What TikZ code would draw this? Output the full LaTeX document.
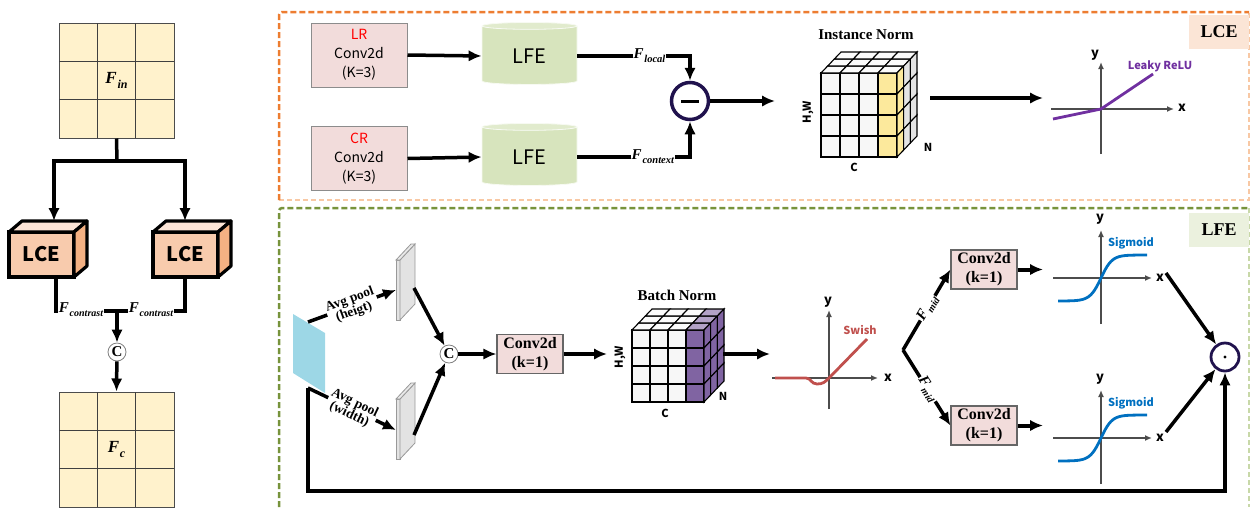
\documentclass[tikz,border=0pt]{standalone}
\usepackage{fontspec}
\setmainfont{Liberation Serif}
\newfontfamily\ksans{Noto Sans CJK KR}
\usetikzlibrary{arrows.meta,shapes.geometric}
\definecolor{gridfill}{HTML}{FFF2CC}
\definecolor{lcefront}{HTML}{F8CBAD}
\definecolor{lcetop}{HTML}{FCE4D6}
\definecolor{lceside}{HTML}{F4B183}
\definecolor{pinkbox}{HTML}{F2DCDB}
\definecolor{cylgreen}{HTML}{D7E4BD}
\definecolor{navy}{HTML}{20124D}
\definecolor{orangeD}{HTML}{ED7D31}
\definecolor{orangeL}{HTML}{F8C8A4}
\definecolor{greenD}{HTML}{77933C}
\definecolor{greenL}{HTML}{C8D8A8}
\definecolor{lcetag}{HTML}{FBE5D6}
\definecolor{lfetag}{HTML}{EBF1DE}
\definecolor{yellowc}{HTML}{FCE99C}
\definecolor{purplec}{HTML}{8064A2}
\definecolor{purplel}{HTML}{B3A2C7}
\definecolor{leaky}{HTML}{7030A0}
\definecolor{swishc}{HTML}{C0504D}
\definecolor{sigc}{HTML}{0070C0}
\definecolor{bluepar}{HTML}{9DD7E6}
\definecolor{slabc}{HTML}{E3E3E3}
\definecolor{cubew}{HTML}{F7F7F7}
\definecolor{cubet}{HTML}{FBFBFB}
\definecolor{cubes}{HTML}{E4E4E4}
\newcommand\myfs[2]{\fontsize{#1pt}{#2pt}\selectfont}
\newcommand\Fv[3]{{\myfs{#1}{#1}\bfseries\itshape F\kern0.8pt\raisebox{-0.25em}{\myfs{#2}{#2}#3}}}
\newcommand\drawcube[8]{%
 \foreach \i in {0,1,2,3}{\foreach \j in {0,1,2,3}{%
   \ifnum\i=3\relax\def\cc{#5}\else\def\cc{cubew}\fi
   \filldraw[fill=\cc,cubeline] ({#1+\i*#3},{#2+\j*#4}) rectangle ++(#3,#4);}}%
 \foreach \k in {0,1,2}{\foreach \i in {0,1,2,3}{%
   \ifnum\i=3\relax\def\cc{#8}\else\def\cc{cubet}\fi
   \filldraw[fill=\cc,cubeline] ({#1+\i*#3+\k*20/3},{#2-\k*7}) -- ++(#3,0) -- ++({20/3},-7) -- ++(-#3,0) -- cycle;}}%
 \foreach \k in {0,1,2}{\foreach \j in {0,1,2,3}{%
   \ifnum\k=0\relax\def\cc{#6}\else\def\cc{#7}\fi
   \filldraw[fill=\cc,cubeline] ({#1+4*#3+\k*20/3},{#2+\j*#4-\k*7}) -- ++({20/3},-7) -- ++(0,#4) -- ++({-20/3},7) -- cycle;}}%
}
\tikzset{
 conn/.style={line width=3.5pt},
 arr/.style={line width=3.5pt,-{Latex[length=13pt,width=11.5pt]}},
 axisarr/.style={line width=1.5pt,draw=black!70,-{Latex[length=7pt,width=6pt]}},
 lbl/.style={fill=white,inner sep=1pt},
 gridnode/.style={draw=black!70,line width=1pt,fill=gridfill,minimum size=115pt,inner sep=0pt},
 gridl/.style={draw=black!75,line width=1.2pt},
 lcefr/.style={draw,line width=3.2pt,fill=lcefront,minimum width=65pt,minimum height=45pt,outer sep=0pt,inner sep=0pt,font=\ksans\bfseries\myfs{20}{24}},
 lcepoly/.style={draw,line width=3.2pt,line join=round},
 cnode/.style={circle,draw=black!50,line width=0.8pt,minimum size=18pt,inner sep=0pt,fill=white,font=\bfseries\myfs{15}{15}},
 pinkbx/.style={draw=black!45,line width=1pt,fill=pinkbox,minimum width=96pt,minimum height=64pt,align=center,font=\ksans\myfs{14}{19}},
 cyl/.style={cylinder,shape border rotate=90,aspect=0.17,minimum width=95pt,minimum height=62pt,cylinder uses custom fill,cylinder body fill=cylgreen,cylinder end fill=cylgreen!75!white,draw=white!80!cylgreen,line width=0.8pt,font=\ksans\myfs{20}{24}},
 opnode/.style={circle,draw=navy,line width=3.5pt,fill=white,inner sep=0pt},
 convb/.style={draw=black!60,line width=1.2pt,fill=pinkbox,minimum width=66pt,minimum height=39pt,align=center,inner sep=1pt,font=\bfseries\myfs{16}{19}},
 ttl/.style={font=\bfseries\myfs{15}{18}},
 smallsans/.style={font=\ksans\bfseries\myfs{11}{13}},
 axl/.style={font=\ksans\bfseries\myfs{13}{13}},
 cubeline/.style={draw=black,line width=1.1pt},
 tagbox/.style={minimum width=60pt,minimum height=34pt,inner sep=0pt,font=\bfseries\myfs{18}{20}},
 avg/.style={fill=white,inner sep=1pt,align=center,font=\bfseries\myfs{13.5}{13}},
}
\begin{document}
\begin{tikzpicture}[x=1pt,y=-1pt]
\useasboundingbox (0,0) rectangle (1250,507);
% ---------- frames
\draw[orangeL,line width=1.2pt,dash pattern=on 5pt off 3pt] (279,200) -- (1249,200) -- (1249,12);
\draw[orangeD,line width=2.5pt,dash pattern=on 6pt off 3pt,rounded corners=3pt] (279,200) -- (279,12) -- (1249,12);
\draw[greenL,line width=1.2pt,dash pattern=on 5pt off 3pt] (1249,208) -- (1249,507);
\draw[greenD,line width=2.5pt,dash pattern=on 6pt off 3pt,rounded corners=3pt] (279,507) -- (279,208) -- (1249,208);
\node[tagbox,fill=lcetag] (tagLCE) at (1219,31.5) {LCE};
\node[tagbox,fill=lfetag] (tagLFE) at (1219,230) {LFE};
% ---------- left panel
\node[gridnode] (Fin) at (116.5,80.5) {\Fv{17}{12}{in}};
\foreach \t in {1,2}{\draw[gridl] ({59+\t*115/3},23) -- ({59+\t*115/3},138); \draw[gridl] (59,{23+\t*115/3}) -- (174,{23+\t*115/3});}
\node[gridnode] (Fc) at (116.5,449.5) {\Fv{17}{12}{c}};
\foreach \t in {1,2}{\draw[gridl] ({59+\t*115/3},392) -- ({59+\t*115/3},507); \draw[gridl] (59,{392+\t*115/3}) -- (174,{392+\t*115/3});}
\node[lcefr] (lce1) at (41.5,254.5) {LCE};
\filldraw[lcepoly,fill=lcetop] (lce1.north west) -- ++(13,-11) -- ++(65,0) -- (lce1.north east) -- cycle;
\filldraw[lcepoly,fill=lceside] (lce1.north east) -- ++(13,-11) -- ++(0,45) -- (lce1.south east) -- cycle;
\node[lcefr] (lce2) at (185.5,254.5) {LCE};
\filldraw[lcepoly,fill=lcetop] (lce2.north west) -- ++(13,-11) -- ++(65,0) -- (lce2.north east) -- cycle;
\filldraw[lcepoly,fill=lceside] (lce2.north east) -- ++(13,-11) -- ++(0,45) -- (lce2.south east) -- cycle;
\coordinate (sp) at (117,161);
\coordinate (lce1in) at (54,221);
\coordinate (lce2in) at (185,221);
\draw[conn] (Fin.south) -- (sp);
\draw[arr] (sp) -| (lce1in);
\draw[arr] (sp) -| (lce2in);
\coordinate (lce1out) at (56,277);
\coordinate (lce2out) at (185,277);
\coordinate (tj) at (117,311);
\draw[conn] (lce1out) -- (56,311) -- (185,311) -- (lce2out);
\node[lbl] (fc1) at (81,310) {\Fv{15}{10}{contrast}};
\node[lbl] (fc2) at (151,310) {\Fv{15}{10}{contrast}};
\node[cnode] (C1) at (117,352) {C};
\draw[arr] (tj) -- (C1);
\draw[arr] (C1) -- (Fc.north);
% ---------- LCE block
\node[pinkbx] (LR) at (359,55) {\textcolor{red}{LR}\\Conv2d\\(K=3)};
\node[pinkbx] (CR) at (359,158.5) {\textcolor{red}{CR}\\Conv2d\\(K=3)};
\node[cyl] (LFE1) at (529.5,56) {LFE};
\node[cyl] (LFE2) at (529.5,157) {LFE};
\node[opnode,minimum size=37pt] (minus) at (690,101) {};
\draw[line width=3pt] ([xshift=-9pt]minus.center) -- ([xshift=9pt]minus.center);
\draw[arr] (LR.east) -- (LFE1.west);
\draw[arr] (CR.east) -- (LFE2.west);
\draw[arr] (LFE1.east) -- node[pos=0.64,lbl] (flocal) {\Fv{15}{10.5}{local}} (LFE1.east -| minus) -- (minus);
\draw[arr] (LFE2.east) -- node[pos=0.67,lbl] (fcontext) {\Fv{15}{10.5}{context}} (LFE2.east -| minus) -- (minus);
\coordinate (inin) at (775,101);
\draw[arr] (minus) -- (inin);
\node[ttl] (inorm) at (866,35) {Instance Norm};
\drawcube{821}{73}{19}{21}{yellowc}{yellowc}{cubes}{cubet}
\node[smallsans,rotate=90] (hw1) at (808,112) {H,W};
\node[smallsans] (c1) at (854,167) {C};
\node[smallsans] (n1) at (928,147) {N};
\coordinate (inout) at (930,98);
\coordinate (lrin) at (1043,98);
\draw[arr] (inout) -- (lrin);
% leaky relu
\draw[axisarr] (1101,154) -- (1101,62);
\draw[axisarr] (1051,109) -- (1174,109);
\node[axl] (ly) at (1095,55) {y};
\node[axl] (lx) at (1182,108) {x};
\draw[leaky,line width=2.8pt] (1053,119) -- (1101,109) -- (1153,74);
\node[smallsans,text=leaky] (lrl) at (1160,66) {Leaky ReLU};
% ---------- LFE block
\fill[bluepar] (293,314) -- (325,333) -- (325,393) -- (293,373) -- cycle;
\coordinate (blueT) at (308,322);
\coordinate (blueB) at (308,388);
\filldraw[fill=slabc,draw=black!40,line width=0.8pt] (396,260) rectangle (400,320);
\filldraw[fill=slabc,draw=black!40,line width=0.8pt] (400,260) -- (415,244) -- (415,304) -- (400,320) -- cycle;
\filldraw[fill=slabc!80!white,draw=black!40,line width=0.8pt] (396,260) -- (411,244) -- (415,244) -- (400,260) -- cycle;
\filldraw[fill=slabc,draw=black!40,line width=0.8pt] (396,399) rectangle (400,459);
\filldraw[fill=slabc,draw=black!40,line width=0.8pt] (400,399) -- (415,383) -- (415,443) -- (400,459) -- cycle;
\filldraw[fill=slabc!80!white,draw=black!40,line width=0.8pt] (396,399) -- (411,383) -- (415,383) -- (400,399) -- cycle;
\coordinate (slab1in) at (396,290);
\coordinate (slab2in) at (396,430);
\coordinate (slab1out) at (414,288);
\coordinate (slab2out) at (414,435);
\draw[arr] (blueT) -- node[sloped,avg] (ap1) {Avg pool\\(heigt)} (slab1in);
\draw[arr] (blueB) -- node[sloped,avg] (ap2) {Avg pool\\(width)} (slab2in);
\node[cnode] (C2) at (449,354) {C};
\draw[arr] (slab1out) -- (C2);
\draw[arr] (slab2out) -- (C2);
\node[convb] (conv0) at (530,354) {Conv2d\\(k=1)};
\draw[arr] (C2) -- (conv0.west);
\coordinate (bnin) at (607,354);
\draw[arr] (conv0.east) -- (bnin);
\node[ttl] (bnorm) at (677,295) {Batch Norm};
\drawcube{632}{330}{18}{18}{purplec}{purplec}{purplec}{purplel}
\node[smallsans,rotate=90] (hw2) at (620,357) {H,W};
\node[smallsans] (c2) at (665,413) {C};
\node[smallsans] (n2) at (723,396) {N};
\coordinate (bnout) at (723,354);
\coordinate (swin) at (770,354);
\draw[arr] (bnout) -- (swin);
% swish
\draw[axisarr] (829,409) -- (829,310);
\draw[axisarr] (772,378) -- (878,378);
\node[axl] (sy) at (828,302) {y};
\node[axl] (sx) at (888,378) {x};
\draw[swishc,line width=2.8pt] (775,378) -- (806,378) .. controls (811,378) and (811,384) .. (817,384) .. controls (823,384) and (825,382) .. (829,378) -- (867,339);
\node[smallsans,text=swishc] (swl) at (860,330) {Swish};
% fork
\node[convb] (conv1) at (984,269.5) {Conv2d\\(k=1)};
\node[convb] (conv2) at (984,425.5) {Conv2d\\(k=1)};
\coordinate (fork) at (903,350);
\draw[arr] (fork) -- node[pos=0.52,sloped,lbl] (fm1) {\Fv{15}{10}{mid}} (conv1.west);
\draw[arr] (fork) -- node[pos=0.52,sloped,lbl] (fm2) {\Fv{15}{10}{mid}} (conv2.west);
\coordinate (sg1in) at (1043,269.5);
\coordinate (sg2in) at (1043,425.5);
\draw[arr,line width=4pt] (conv1.east) -- (sg1in);
\draw[arr,line width=4pt] (conv2.east) -- (sg2in);
% sigmoids
\draw[axisarr] (1101,324) -- (1101,230);
\draw[axisarr] (1053,278) -- (1152,278);
\node[axl] (s1y) at (1100,219) {y};
\node[axl] (s1x) at (1160,278) {x};
\draw[sigc,line width=2.8pt] plot[smooth,domain=-43:46,samples=50] ({1101+\x},{278-23*tanh(\x/11)});
\node[smallsans,text=sigc] (s1l) at (1131,243) {Sigmoid};
\draw[axisarr] (1101,484) -- (1101,390);
\draw[axisarr] (1053,438) -- (1152,438);
\node[axl] (s2y) at (1100,379) {y};
\node[axl] (s2x) at (1160,438) {x};
\draw[sigc,line width=2.8pt] plot[smooth,domain=-43:46,samples=50] ({1101+\x},{438-23*tanh(\x/11)});
\node[smallsans,text=sigc] (s2l) at (1131,403) {Sigmoid};
% odot
\node[opnode,minimum size=28pt,line width=2.8pt] (odot) at (1225,357) {};
\fill (odot.center) circle (1.7pt);
\coordinate (sg1out) at (1166,273);
\coordinate (sg2out) at (1166,432);
\draw[arr] (sg1out) -- (odot);
\draw[arr] (sg2out) -- (odot);
\coordinate (loopc) at (308,491);
\draw[arr] (blueB) -- (loopc) -| (odot);
\end{tikzpicture}
\end{document}
